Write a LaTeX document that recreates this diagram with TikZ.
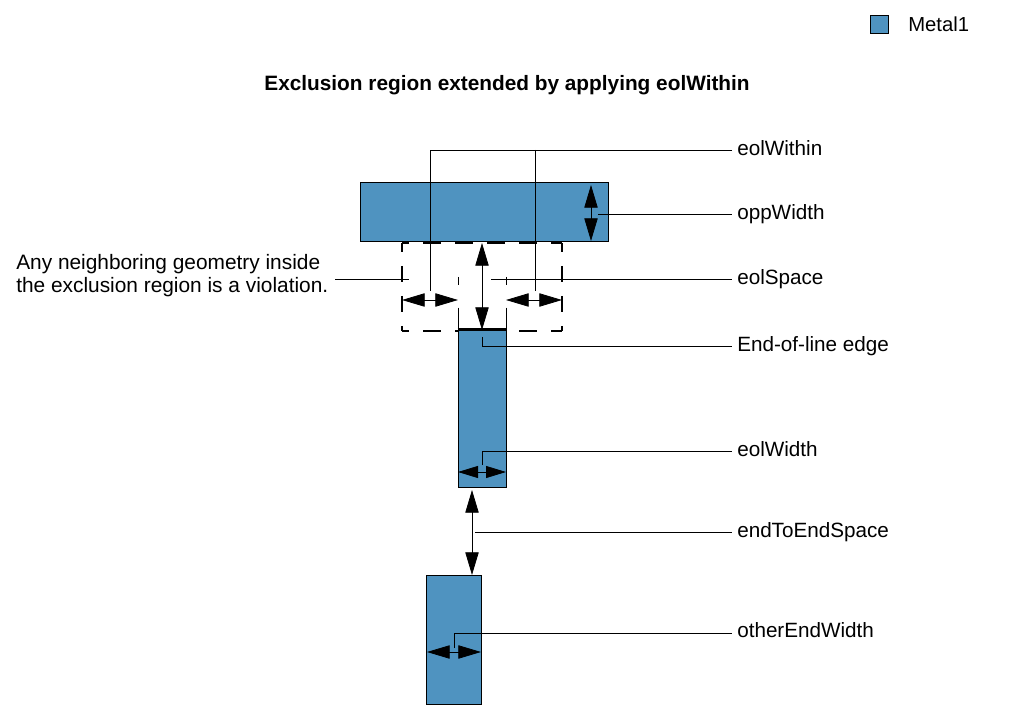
\documentclass[tikz,border=0pt]{standalone}
\usepackage{fontspec}
\setmainfont{Liberation Sans}
\usetikzlibrary{arrows.meta}
\definecolor{metalblue}{HTML}{4F93C0}
\tikzset{
    metal/.style={draw, fill=metalblue, line width=0.7pt, inner sep=0pt},
    leader/.style={line width=0.6pt},
    dim/.style={line width=0.6pt, {Triangle[length=17pt,width=10pt]}-{Triangle[length=17pt,width=10pt]}},
    smalldim/.style={line width=0.6pt, {Triangle[length=15pt,width=9pt]}-{Triangle[length=15pt,width=9pt]}},
    tag/.style={anchor=west, inner xsep=3.75pt, inner ysep=0pt, text height=11.5pt, text depth=3pt, font=\fontsize{15.5}{18}\selectfont},
    regionh/.style={line width=1.1pt, dash pattern=on 13.5pt off 10.5pt, dash phase=8.25pt},
    regionv/.style={line width=1.1pt, dash pattern=on 12pt off 10.5pt, dash phase=5.25pt}
}
\begin{document}
\begin{tikzpicture}[x=0.75pt,y=-0.75pt]
        \useasboundingbox (0,0) rectangle (1013,712);
        % Legend
        \node[metal, minimum size=13.5pt] (legendbox) at (879,24) {};
        \node[tag, font=\fontsize{15.2}{18}\selectfont] (legendtext) at (903,26) {Metal1};
        % Title
        \node[font=\bfseries\fontsize{15.6}{18}\selectfont, inner sep=0pt] (title) at (507,85) {Exclusion region extended by applying eolWithin};
        % Exclusion region
        \coordinate (regionnw) at (402,243);
        \coordinate (regionne) at (562,243);
        \coordinate (regionsw) at (402,331);
        \coordinate (regionse) at (562,331);
        \draw[regionh] (regionnw) -- (regionne);
        \draw[regionh] (regionsw) -- (regionse);
        \draw[regionv] (regionnw) -- (regionsw);
        \draw[regionv] (regionne) -- (regionse);
        \foreach \x in {458,506} {
                \draw[line width=0.6pt, dash pattern=on 6pt off 17pt on 30pt off 0pt] (\x,277) -- (\x,330);
            }
        % Metal shapes
        \node[metal, minimum width=186pt, minimum height=44.25pt] (oppwire) at (484,211.5) {};
        \node[metal, minimum width=36pt, minimum height=118pt] (eolwire) at (482,408.5) {};
        \node[metal, minimum width=41.25pt, minimum height=96.75pt] (otherwire) at (453.5,639.5) {};
        \draw[line width=2.2pt] (eolwire.north west) -- (eolwire.north east);
        % Labels
        \foreach \name/\y/\txt in {within/150/eolWithin, opp/214/oppWidth, space/279/eolSpace, edge/346/End-of-line edge, width/451/eolWidth, endend/532/endToEndSpace} {
                \node[tag] (\name) at (732,\y) {\txt};
            }
        \node[tag, text depth=4.9pt] (other) at (732,633) {otherEndWidth};
        \node[font=\fontsize{15.65}{17.25}\selectfont, align=left, anchor=west, inner sep=0pt] (violation) at (16,276) {Any neighboring geometry inside\\the exclusion region is a violation.};
        % Dimension ends
        \coordinate (opptop) at (591,185);
        \coordinate (oppbot) at (591,241);
        \coordinate (spacetop) at (482,243);
        \coordinate (spacebot) at (482,330);
        \coordinate (leftin) at (402,300);
        \coordinate (leftout) at (458,300);
        \coordinate (rightin) at (506,300);
        \coordinate (rightout) at (562,300);
        \coordinate (widthl) at (458,472);
        \coordinate (widthr) at (506,472);
        \coordinate (endtop) at (472,490);
        \coordinate (endbot) at (472,575);
        \coordinate (otherl) at (427,652);
        \coordinate (otherr) at (481,652);
        % Arrows
        \draw[dim] (opptop) -- (oppbot);
        \draw[dim] (spacetop) -- (spacebot);
        \draw[dim] (leftin) -- (leftout);
        \draw[dim] (rightin) -- (rightout);
        \draw[smalldim] (widthl) -- (widthr);
        \draw[dim] (endtop) -- (endbot);
        \draw[dim] (otherl) -- (otherr);
        % Leaders
        \coordinate (withinl) at (430,291);
        \coordinate (withinr) at (535,291);
        \coordinate (oppstart) at (598,214);
        \coordinate (spacestart) at (491,279);
        \coordinate (violend) at (409,279);
        \coordinate (violstart) at (335,279);
        \coordinate (edgestart) at (482,337);
        \coordinate (widthstart) at (482,465);
        \coordinate (endstart) at (475,532);
        \coordinate (otherstart) at (454,648);
        \draw[leader] (within.west) -- (withinl |- within.west) -- (withinl);
        \draw[leader] (withinr |- within.west) -- (withinr);
        \draw[leader] (oppstart) -- (opp.west);
        \draw[leader] (spacestart) -- (space.west);
        \draw[leader] (violstart) -- (violend);
        \draw[leader] (edgestart) -- (edgestart |- edge.west) -- (edge.west);
        \draw[leader] (widthstart) -- (widthstart |- width.west) -- (width.west);
        \draw[leader] (endstart) -- (endend.west);
        \draw[leader] (otherstart) -- (otherstart |- other.west) -- (other.west);
    \end{tikzpicture}
\end{document}
